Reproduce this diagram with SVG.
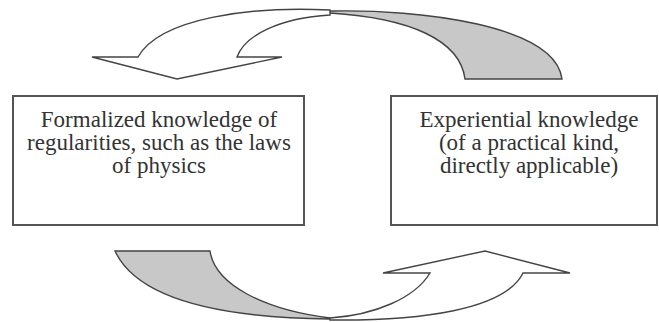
<svg xmlns="http://www.w3.org/2000/svg" width="659" height="322" viewBox="0 0 659 322">
  <style>
    .box { fill: #ffffff; stroke: #555555; stroke-width: 2; }
    .label { font-family: "Liberation Serif", "DejaVu Serif", serif; font-size: 23px; fill: #333333; text-anchor: middle; }
    .band { stroke: #444444; stroke-width: 1.4; stroke-linejoin: miter; }
    .shade { fill: #c8c8c8; }
    .plain { fill: #ffffff; }
  </style>
  <rect width="659" height="322" fill="#ffffff"/>

  <g id="connectors">
    <!-- upper twisted ribbon: shaded tail on the right, arrowhead pointing down-left -->
    <path class="band shade" d="M330,11 C420,9 555,25 562,79 L465,79 C460,40 410,18 330,13 Z"/>
    <path class="band plain" d="M330,10 C250,6 160,18 138,57 L92,57 L177,79 L282,57 L237,57 C245,35 280,18 330,15 Z"/>
    <!-- lower twisted ribbon: shaded tail on the left, arrowhead pointing up-right -->
    <path class="band shade" d="M115,251 L210,251 C215,285 265,310 330,318 L330,319 C240,318 140,305 115,251 Z"/>
    <path class="band plain" d="M330,320 C420,321 505,310 523,273 L570,273 L485,251 L383,273 L430,273 C415,298 375,315 330,318 Z"/>
  </g>

  <g id="formalized-knowledge">
    <rect class="box" x="13" y="96" width="291" height="129"/>
    <text class="label" x="159" y="127">Formalized knowledge of</text>
    <text class="label" x="159" y="150">regularities, such as the laws</text>
    <text class="label" x="159" y="173">of physics</text>
  </g>

  <g id="experiential-knowledge">
    <rect class="box" x="391" y="96" width="266" height="129"/>
    <text class="label" x="529" y="127">Experiential knowledge</text>
    <text class="label" x="529" y="150">(of a practical kind,</text>
    <text class="label" x="529" y="173">directly applicable)</text>
  </g>
</svg>
